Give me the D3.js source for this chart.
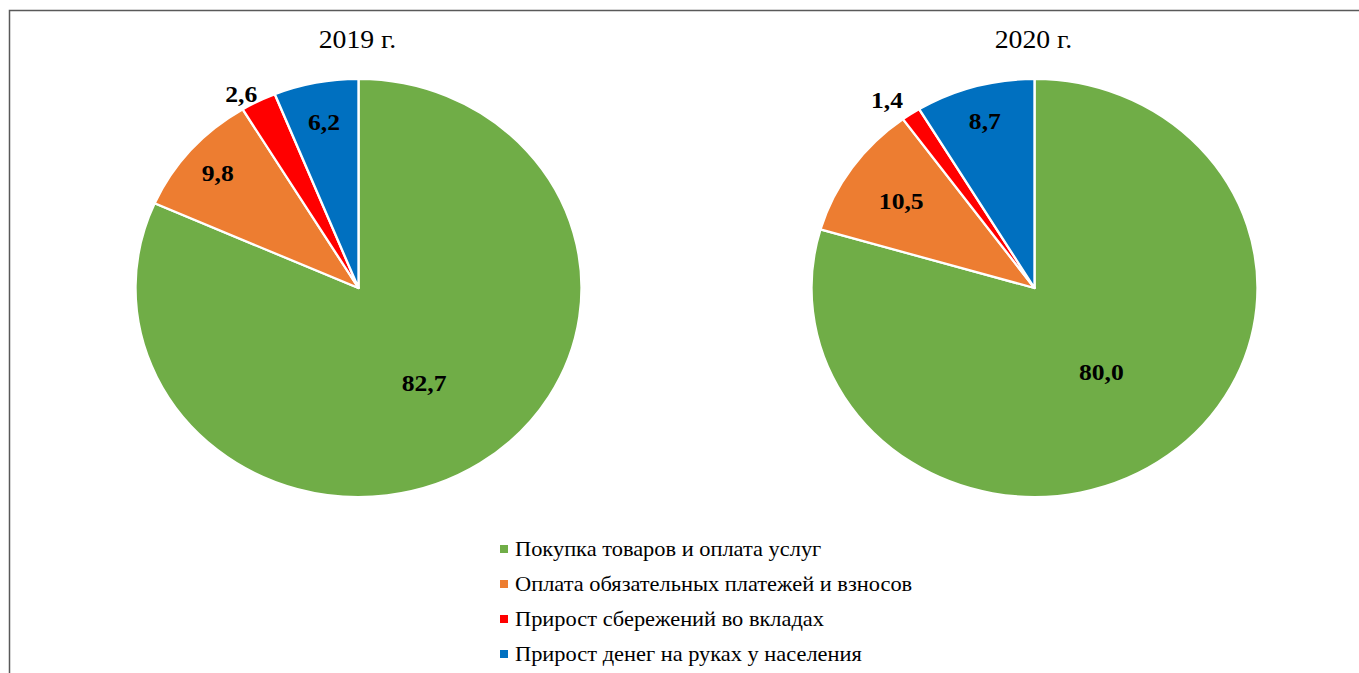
<!DOCTYPE html>
<html>
<head>
<meta charset="utf-8">
<script src="https://cdn.jsdelivr.net/npm/d3@7"></script>
<style>
  body { margin: 0; background: #fff; }
</style>
</head>
<body>
<div id="chart"></div>
<script>
// categories and values
var categories = [
    "Покупка товаров и оплата услуг",
    "Оплата обязательных платежей и взносов",
    "Прирост сбережений во вкладах",
    "Прирост денег на руках у населения"
];
var years = ["2019 г.", "2020 г."];
var values2019 = [82.7, 9.8, 2.6, 6.2];
var values2020 = [80.0, 10.5, 1.4, 8.7];
var colors = ["#70AD47", "#ED7D31", "#FF0000", "#0070C0"];

var width = 1359, height = 673;
var font = "'Liberation Serif', 'DejaVu Serif', serif";

var svg = d3.select("#chart")
    .append("svg")
    .attr("width", width)
    .attr("height", height)
    .style("font-family", font);

// frame (right and bottom edges fall outside the picture)
svg.append("rect")
    .attr("x", 9.5)
    .attr("y", 10.5)
    .attr("width", width + 20)
    .attr("height", height + 20)
    .attr("fill", "none")
    .attr("stroke", "#595959")
    .attr("stroke-width", 1.5);

// the whole picture is a bit wider than tall
var ry = 209, rx = 223;
var stretch = rx / ry;

var pie = d3.pie().sort(null).value(function(d) { return d; });
var arc = d3.arc().innerRadius(0).outerRadius(ry);

// how far out each label sits, as a share of the radius,
// plus a small turn (radians) for the ones outside
var labelR = [
    [0.54, 0.84, 1.067, 0.81],
    [0.50, 0.73, 1.116, 0.83]
];
var labelTurn = [
    [0, 0, -0.05, 0],
    [0, 0, -0.047, 0]
];

var fmt = function(v) { return v.toFixed(1).replace(".", ","); };

var pies = [
    { title: years[0], values: values2019, cx: 358.5, cy: 288 },
    { title: years[1], values: values2020, cx: 1034.5, cy: 288 }
];

pies.forEach(function(p, i) {
    var g = svg.append("g")
        .attr("transform", `translate(${p.cx},${p.cy})`);

    g.append("g")
        .attr("transform", `scale(${stretch},1)`)
        .selectAll("path")
        .data(pie(p.values))
        .join("path")
        .attr("d", arc)
        .attr("fill", function(d, j) { return colors[j]; })
        .attr("stroke", "#fff")
        .attr("stroke-width", 2.2)
        .attr("stroke-linejoin", "round");

    g.selectAll(".lbl")
        .data(pie(p.values))
        .join("text")
        .attr("class", "lbl")
        .attr("transform", function(d, j) {
            var a = (d.startAngle + d.endAngle) / 2 + labelTurn[i][j];
            var x = Math.sin(a) * ry * labelR[i][j] * stretch;
            var y = -Math.cos(a) * ry * labelR[i][j];
            return `translate(${x},${y}) scale(${stretch},1)`;
        })
        .attr("dy", "0.35em")
        .attr("text-anchor", "middle")
        .attr("font-family", font)
        .attr("font-size", 24)
        .attr("font-weight", "bold")
        .text(function(d) { return fmt(d.data); });

    svg.append("text")
        .attr("transform", `translate(${p.cx - 1},48) scale(${stretch},1)`)
        .attr("text-anchor", "middle")
        .attr("font-family", font)
        .attr("font-size", 26)
        .text(p.title);
});

// legend
var legend = svg.append("g")
    .attr("transform", "translate(500,549)");

var rows = legend.selectAll("g")
    .data(categories)
    .join("g")
    .attr("transform", function(d, i) { return `translate(0,${i * 35})`; });

rows.append("rect")
    .attr("x", 0)
    .attr("y", -4)
    .attr("width", 8)
    .attr("height", 8)
    .attr("fill", function(d, i) { return colors[i]; });

rows.append("text")
    .attr("transform", `translate(15,0) scale(${stretch},1)`)
    .attr("dy", "0.35em")
    .attr("font-family", font)
    .attr("font-size", 21)
    .text(function(d) { return d; });
</script>
</body>
</html>
